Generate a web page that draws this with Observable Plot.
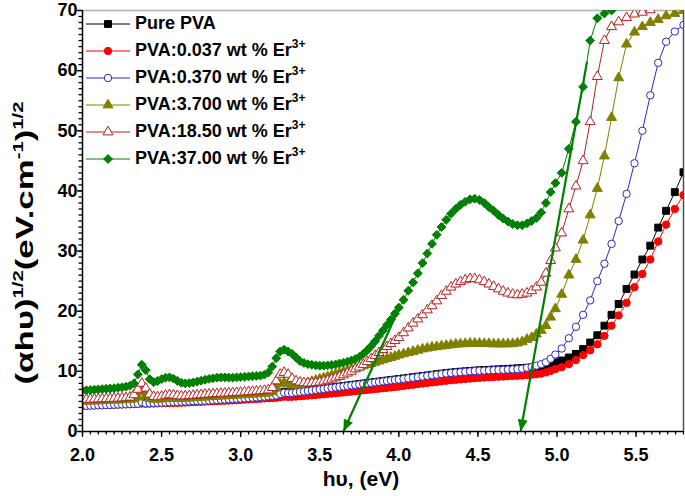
<!DOCTYPE html>
<html><head><meta charset="utf-8">
<script src="https://cdn.jsdelivr.net/npm/d3@7"></script>
<script src="https://cdn.jsdelivr.net/npm/@observablehq/plot@0.6"></script>
<style>
body{margin:0;background:#fff;}
#wrap{position:relative;width:685px;height:496px;font-family:"Liberation Sans",Arial,sans-serif;}
#legend{position:absolute;left:86px;top:10px;font-weight:bold;font-size:18px;color:#000;}
.row{display:flex;align-items:center;height:27px;white-space:nowrap;}
.row svg{margin-right:5px;}
.row sup{font-size:12px;vertical-align:8px;line-height:0;}
</style></head><body><div id="wrap"></div><script>
// photon energy hv (eV), shared by all series
const hv = [
2.000,2.025,2.050,2.075,2.100,2.125,2.150,2.175,2.200,2.225,
2.250,2.275,2.300,2.325,2.350,2.375,2.400,2.425,2.450,2.475,
2.500,2.525,2.550,2.575,2.600,2.625,2.650,2.675,2.700,2.725,
2.750,2.775,2.800,2.825,2.850,2.875,2.900,2.925,2.950,2.975,
3.000,3.025,3.050,3.075,3.100,3.125,3.150,3.175,3.200,3.225,
3.250,3.275,3.300,3.325,3.350,3.375,3.400,3.425,3.450,3.475,
3.500,3.525,3.550,3.575,3.600,3.625,3.650,3.675,3.700,3.725,
3.750,3.775,3.800,3.825,3.850,3.875,3.900,3.925,3.950,3.975,
4.000,
4.03,4.06,4.09,4.12,4.15,4.18,4.21,4.24,4.27,4.30,
4.33,4.36,4.39,4.42,4.45,4.48,4.51,4.54,4.57,4.60,
4.63,4.66,4.69,4.72,4.75,4.78,4.81,4.84,4.87,4.90,
4.93,4.96,4.99,
5.03,5.075,5.12,5.165,5.21,5.255,5.30,5.345,5.39,
5.44,5.49,5.54,5.59,5.64,5.69,5.745,5.80];

const purePVA = [
4.45,4.47,4.50,4.52,4.55,4.57,4.60,4.62,4.65,4.68,
4.70,4.73,4.75,4.78,4.81,4.95,4.86,4.89,4.92,4.95,
4.98,5.01,5.04,5.07,5.10,5.13,5.16,5.19,5.22,5.25,
5.28,5.31,5.34,5.38,5.42,5.46,5.50,5.54,5.58,5.62,
5.66,5.71,5.76,5.81,5.86,5.92,5.98,6.04,6.11,6.18,
6.35,6.55,6.50,6.52,6.58,6.66,6.74,6.82,6.90,6.98,
7.06,7.14,7.22,7.30,7.38,7.46,7.55,7.63,7.71,7.80,
7.88,7.96,8.05,8.13,8.22,8.30,8.38,8.47,8.55,8.63,
8.72,
8.82,8.92,9.02,9.12,9.22,9.32,9.42,9.52,9.62,9.72,
9.80,9.87,9.94,10.00,10.07,10.12,10.17,10.21,10.25,10.29,
10.33,10.37,10.41,10.45,10.50,10.55,10.60,10.65,10.72,10.80,
11.00,11.25,11.50,
11.80,12.30,12.90,13.70,14.80,16.00,17.60,19.40,21.20,
23.70,26.10,28.60,30.90,33.90,36.70,39.80,43.10];

const er0037 = [
4.30,4.32,4.34,4.36,4.38,4.40,4.42,4.44,4.46,4.48,
4.50,4.52,4.54,4.56,4.58,4.65,4.62,4.64,4.66,4.68,
4.70,4.72,4.74,4.76,4.78,4.80,4.83,4.86,4.89,4.92,
4.95,4.98,5.01,5.04,5.07,5.10,5.13,5.16,5.19,5.22,
5.26,5.30,5.34,5.38,5.42,5.46,5.50,5.54,5.58,5.62,
5.70,5.80,5.76,5.78,5.82,5.87,5.92,5.97,6.02,6.08,
6.14,6.20,6.26,6.32,6.38,6.44,6.50,6.57,6.64,6.71,
6.78,6.85,6.92,6.99,7.06,7.13,7.20,7.27,7.34,7.41,
7.48,
7.58,7.68,7.78,7.88,7.98,8.07,8.16,8.25,8.34,8.43,
8.51,8.59,8.67,8.74,8.81,8.87,8.93,8.98,9.03,9.07,
9.11,9.15,9.19,9.23,9.27,9.32,9.38,9.45,9.53,9.63,
9.82,10.08,10.38,
10.70,11.20,11.90,12.70,13.50,14.50,15.90,17.60,19.30,
21.40,24.00,26.20,28.60,31.60,34.40,37.00,39.30];

const er0370 = [
4.25,4.27,4.30,4.32,4.35,4.37,4.40,4.42,4.45,4.48,
4.50,4.53,4.55,4.58,4.61,4.85,4.67,4.70,4.73,4.76,
4.79,4.82,4.85,4.88,4.91,4.94,4.97,5.00,5.03,5.06,
5.09,5.12,5.15,5.19,5.23,5.27,5.31,5.35,5.39,5.43,
5.47,5.52,5.57,5.62,5.67,5.73,5.79,5.85,5.92,6.00,
6.25,6.45,6.40,6.42,6.50,6.58,6.66,6.74,6.82,6.91,
7.00,7.08,7.17,7.25,7.33,7.42,7.50,7.58,7.67,7.75,
7.83,7.92,8.00,8.08,8.17,8.25,8.33,8.42,8.50,8.58,
8.65,
8.75,8.85,8.95,9.05,9.15,9.25,9.35,9.45,9.55,9.65,
9.73,9.80,9.87,9.93,10.00,10.05,10.10,10.13,10.17,10.20,
10.23,10.26,10.30,10.33,10.37,10.45,10.60,10.75,10.95,11.20,
11.50,12.10,12.80,
13.80,15.50,17.40,19.40,21.80,25.00,27.90,31.20,35.00,
39.50,44.60,50.00,55.90,61.30,64.80,66.50,67.60];

const er3700 = [
5.00,5.02,5.05,5.07,5.10,5.12,5.15,5.17,5.20,5.22,
5.25,5.28,5.32,5.40,5.70,6.60,6.00,5.50,5.35,5.35,
5.40,5.45,5.50,5.48,5.46,5.47,5.50,5.55,5.60,5.64,
5.68,5.72,5.76,5.80,5.84,5.88,5.92,5.96,6.00,6.04,
6.08,6.12,6.16,6.20,6.25,6.30,6.35,6.40,6.60,7.20,
7.90,8.10,7.90,7.70,7.70,7.80,7.95,8.10,8.30,8.50,
8.70,8.90,9.10,9.30,9.50,9.70,9.90,10.10,10.30,10.50,
10.70,10.90,11.10,11.30,11.50,11.70,11.90,12.10,12.30,12.50,
12.70,
12.90,13.10,13.30,13.50,13.70,13.85,14.00,14.10,14.20,14.30,
14.40,14.50,14.55,14.60,14.65,14.65,14.65,14.60,14.60,14.55,
14.55,14.55,14.55,14.60,14.70,14.90,15.30,15.60,16.20,16.80,
17.60,19.00,20.40,
22.80,26.00,28.60,31.80,36.00,40.40,45.80,52.20,58.80,
64.40,66.40,67.30,68.00,68.50,69.10,69.50,70.00];

const er1850 = [
5.30,5.32,5.35,5.37,5.40,5.42,5.45,5.47,5.50,5.52,
5.55,5.60,5.70,6.10,7.00,8.00,7.20,6.20,5.80,5.75,
5.85,6.00,6.10,6.05,5.95,5.90,5.90,5.95,6.00,6.05,
6.10,6.15,6.20,6.25,6.28,6.32,6.35,6.38,6.42,6.45,
6.50,6.55,6.60,6.65,6.70,6.75,6.80,6.90,7.30,8.40,
9.50,9.80,9.50,8.80,8.40,8.20,8.10,8.05,8.05,8.10,
8.20,8.35,8.50,8.70,8.90,9.15,9.40,9.70,10.00,10.40,
10.70,11.10,11.60,12.10,12.60,13.10,13.60,14.10,14.60,15.10,
15.60,
16.40,17.20,18.00,18.70,19.40,20.20,20.90,21.70,22.60,23.30,
24.00,24.50,24.90,25.20,25.40,25.40,25.20,24.90,24.50,24.10,
23.70,23.30,23.00,22.80,22.70,22.80,23.00,23.40,24.00,24.80,
26.30,28.40,30.50,
33.00,37.00,40.80,45.00,51.50,59.00,65.00,67.30,68.10,
68.80,69.40,69.70,70.10,null,null,null,null];

const er3700b = [
6.80,6.85,6.90,6.95,7.00,7.05,7.10,7.15,7.20,7.28,
7.35,7.45,7.60,8.00,9.50,11.10,10.20,8.70,8.20,8.40,
8.70,8.95,9.00,8.80,8.40,8.10,8.00,8.05,8.15,8.30,
8.45,8.60,8.75,8.85,8.95,9.00,9.00,8.95,8.95,9.00,
9.05,9.10,9.15,9.20,9.25,9.30,9.45,9.80,10.80,12.20,
13.30,13.60,13.30,12.90,12.30,11.70,11.40,11.20,11.10,11.00,
10.95,10.95,11.00,11.05,11.15,11.30,11.45,11.60,11.80,12.05,
12.40,12.90,13.50,14.20,15.00,15.90,16.80,17.70,18.60,19.60,
20.60,
21.90,23.40,24.80,26.30,28.00,29.60,31.20,32.70,34.00,35.20,
36.20,37.00,37.70,38.20,38.60,38.70,38.50,38.00,37.30,36.70,
36.00,35.40,34.90,34.50,34.30,34.30,34.60,35.00,35.50,36.40,
38.00,39.80,41.30,
43.00,47.00,51.50,57.30,65.00,68.70,69.50,70.00,null,
null,null,null,null,null,null,null,null];

// tangent (band-gap extrapolation) lines
const tangentTopHv = [4.01, 5.19];
const tangentTopY = [21.0, 61.5];
const tangentBaseHv = [3.65, 4.77];
const tangentBaseY = [0, 0];

// legend labels and ticks
const seriesLabels = ["Pure PVA", "PVA:0.037 wt % Er", "PVA:0.370 wt % Er", "PVA:3.700 wt % Er", "PVA:18.50 wt % Er", "PVA:37.00 wt % Er"];
const seriesSup = ["", "3+", "3+", "3+", "3+", "3+"];
const xTicks = [2.0, 2.5, 3.0, 3.5, 4.0, 4.5, 5.0, 5.5];
const yTicks = [0, 10, 20, 30, 40, 50, 60, 70];
const xLabel = "hυ, (eV)";

const styles = [
  {values: purePVA, color: "#000000", symbol: "square", fill: "#000000", r: 3.9},
  {values: er0037, color: "#ff0000", symbol: "circle", fill: "#ff0000", r: 3.7},
  {values: er0370, color: "#2a2ab8", symbol: "circle", fill: "#ffffff", r: 3.7},
  {values: er3700, color: "#808000", symbol: "triangle", fill: "#808000", r: 3.7},
  {values: er1850, color: "#b22222", symbol: "triangle", fill: "#ffffff", r: 3.7},
  {values: er3700b, color: "#008000", symbol: "diamond2", fill: "#008000", r: 4.0}
];

const marks = [];
styles.forEach((s, k) => {
  const data = hv.map((x, i) => ({hv: x, v: s.values[i]}));
  marks.push(Plot.line(data, {x: "hv", y: "v", stroke: s.color, strokeWidth: 1, clip: true}));
  marks.push(Plot.dot(data.filter(d => d.v != null), {x: "hv", y: "v", symbol: s.symbol, r: s.r, fill: s.fill, stroke: s.color, strokeWidth: 1, clip: true}));
});
const tangents = tangentTopHv.map((x, i) => ({x1: x, y1: tangentTopY[i], x2: tangentBaseHv[i], y2: tangentBaseY[i]}));

const chart = Plot.plot({
  width: 685, height: 496,
  marginLeft: 82, marginRight: 2, marginTop: 10, marginBottom: 65,
  x: {domain: [2, 5.8]},
  y: {domain: [0, 70]},
  style: {fontFamily: "'Liberation Sans', Arial, sans-serif", fontSize: "18px", fontWeight: "bold", color: "#000", background: "#fff"},
  marks: [
    Plot.ruleY([70], {stroke: "#b0b0b0", strokeWidth: 1.5}),
    Plot.ruleX([5.8], {stroke: "#505050", strokeWidth: 1.5}),
    ...marks,
    Plot.link(tangents, {x1: "x1", y1: "y1", x2: "x2", y2: "y2", stroke: "#008000", strokeWidth: 2.2}),
    Plot.ruleY([0], {stroke: "#000", strokeWidth: 1.5}),
    Plot.ruleX([2], {stroke: "#000", strokeWidth: 1.5}),
    Plot.axisX({ticks: xTicks, tickSize: 6, tickPadding: 11, tickFormat: d => d.toFixed(1), label: null, strokeWidth: 1.3}),
    Plot.axisX({ticks: d3.range(2, 5.801, 0.05), tickSize: 3.5, tickFormat: () => "", label: null, strokeWidth: 1.3}),
    Plot.axisY({ticks: yTicks, tickSize: 5, tickPadding: 0, label: null, strokeWidth: 1.3}),
    Plot.axisY({ticks: d3.range(0, 70.5, 1), tickSize: 3.5, tickFormat: () => "", label: null, strokeWidth: 1.3})
  ]
});

const svg = d3.select(chart);
const defs = svg.append("defs");
defs.append("marker").attr("id", "ahead").attr("viewBox", "0 0 12 10").attr("refX", 12).attr("refY", 5)
  .attr("markerWidth", 12).attr("markerHeight", 10).attr("markerUnits", "userSpaceOnUse").attr("orient", "auto")
  .append("path").attr("d", "M0,0L12,5L0,10z").attr("fill", "#008000");
svg.selectAll('g[aria-label="link"] path').attr("marker-end", "url(#ahead)");

const yl = svg.append("text").attr("transform", "translate(33,243) rotate(-90) scale(1.45,1)").attr("text-anchor", "middle")
  .style("font-size", "24px").style("font-weight", "bold").attr("fill", "#000");
yl.append("tspan").text("(αhυ)");
yl.append("tspan").attr("dy", -10).style("font-size", "14px").text("1/2");
yl.append("tspan").attr("dy", 10).text("(eV.cm");
yl.append("tspan").attr("dy", -10).style("font-size", "14px").text("-1");
yl.append("tspan").attr("dy", 10).text(")");
yl.append("tspan").attr("dy", -10).style("font-size", "14px").text("1/2");

svg.append("text").attr("x", 361).attr("y", 486).attr("text-anchor", "middle")
  .style("font-size", "21px").style("font-weight", "bold").attr("fill", "#000").text(xLabel);

const wrap = document.getElementById("wrap");
wrap.appendChild(chart);

const legend = d3.select(wrap).append("div").attr("id", "legend");
styles.forEach((s, k) => {
  const row = legend.append("div").attr("class", "row");
  const sv = row.append("svg").attr("width", 44).attr("height", 20);
  sv.append("line").attr("x1", 0).attr("x2", 44).attr("y1", 10).attr("y2", 10).attr("stroke", s.color).attr("stroke-width", 1);
  const typ = {square: d3.symbolSquare, circle: d3.symbolCircle, triangle: d3.symbolTriangle, diamond2: d3.symbolDiamond2}[s.symbol];
  sv.append("path").attr("transform", "translate(22,10)").attr("d", d3.symbol(typ, Math.PI * s.r * s.r)())
    .attr("fill", s.fill).attr("stroke", s.color).attr("stroke-width", 1);
  const t = row.append("span").text(seriesLabels[k]);
  if (seriesSup[k]) t.append("sup").text(seriesSup[k]);
});
</script></body></html>
